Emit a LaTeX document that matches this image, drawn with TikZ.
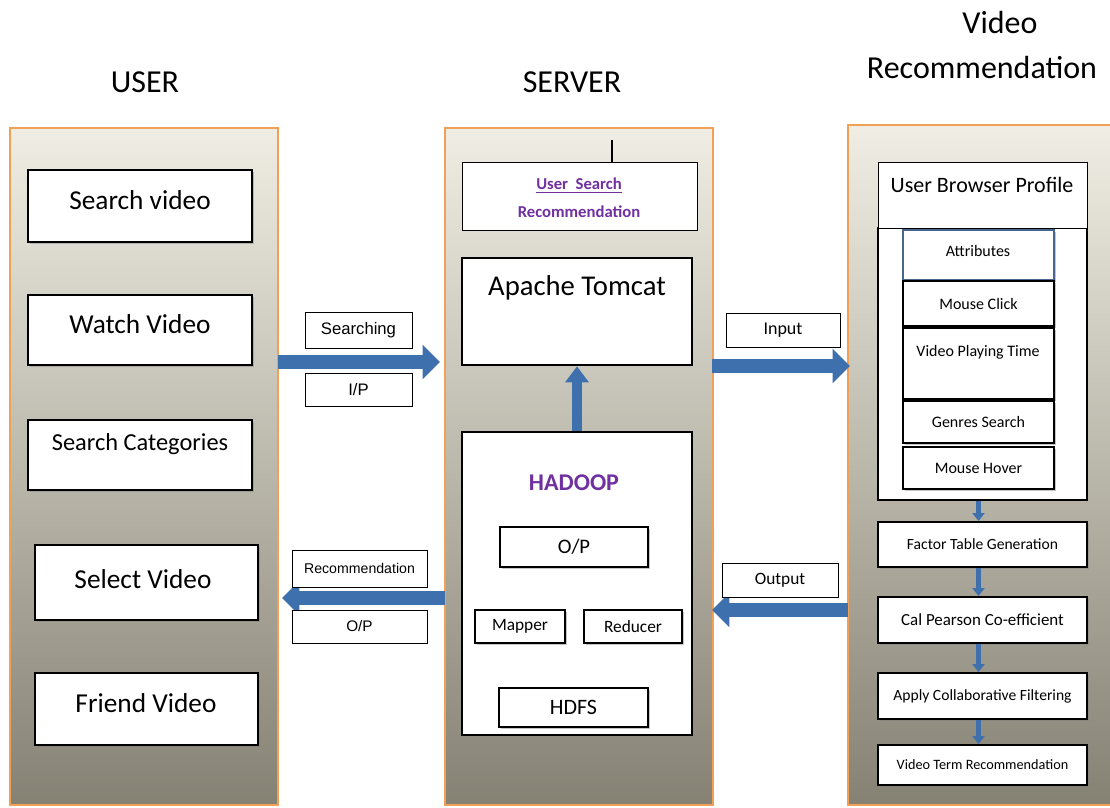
\documentclass[tikz,border=0pt]{standalone}
\usepackage{fontspec}
\setmainfont{Carlito}
\newfontfamily\arialf{Liberation Sans}
\usetikzlibrary{arrows.meta,fit,shadows}
\definecolor{panelTop}{HTML}{F0EEE4}
\definecolor{panelBot}{HTML}{858173}
\definecolor{panelEdge}{HTML}{F2A055}
\definecolor{arrowBlue}{HTML}{3F70AE}
\definecolor{arrowEdge}{HTML}{2E5A8E}
\definecolor{purp}{HTML}{7030A0}
\definecolor{attrEdge}{HTML}{4A6690}
\tikzset{
  panel/.style={draw=panelEdge, line width=2.2pt, top color=panelTop, bottom color=panelBot, inner sep=0pt},
  wbox/.style={draw=black, fill=white, line width=0.9pt, inner sep=0pt, drop shadow={shadow xshift=1.8pt, shadow yshift=-1.5pt, opacity=0.45}},
  thinbox/.style={draw=black, fill=white, line width=0.6pt, inner sep=0pt},
  heavybox/.style={draw=black, fill=white, line width=2pt, inner sep=0pt},
  bigarrow/.style={line width=10.5pt, color=arrowBlue, -{Triangle[length=13pt, width=25pt]}},
  uparrow/.style={color=arrowBlue, line width=7pt, -{Triangle[length=12pt, width=17pt]}},
  smallarrow/.style={color=arrowBlue, line width=3.5pt, -{Triangle[length=6pt, width=9pt]}},
  title/.style={font=\fontsize{24}{28}\selectfont},
  txt/.style={inner sep=0pt},
}
\begin{document}
\begin{tikzpicture}[x=0.75pt, y=-0.75pt]
\useasboundingbox[fill=white] (0,0) rectangle (1110,807);
% titles
\node[title] (tUser) at (145,82) {USER};
\node[title] (tServer) at (572,82) {SERVER};
\node[title] (tVideo) at (1000,22) {Video};
\node[title] (tRec) at (982,68) {Recommendation};
% panels
\node[panel, fit={(10,128) (278,805)}] (userP) {};
\node[panel, fit={(445,128) (713,805)}] (servP) {};
\begin{scope}
\clip (0,0) rectangle (1110,807);
\node[panel, fit={(848,125) (1118,805)}] (recP) {};
\end{scope}
% user boxes
\begin{scope}[font=\fontsize{20.5}{24}\selectfont]
\node[wbox, fit={(28,170) (252,242)}] (sv) {};
\node[txt] at (140,200) {Search video};
\node[wbox, fit={(28,295) (252,365)}] (wv) {};
\node[txt] at (140,324) {Watch Video};
\node[wbox, fit={(28,420) (252,490)}] (sc) {};
\node[txt, font=\fontsize{18.3}{22}\selectfont] at (140,444) {Search Categories};
\node[wbox, fit={(35,545) (258,620)}] (sel) {};
\node[txt] at (143,579) {Select Video};
\node[wbox, fit={(35,673) (258,745)}] (fv) {};
\node[txt] at (146,703) {Friend Video};
\end{scope}
% server
\node[thinbox, fit={(462,162) (697,230)}] (usr) {};
\node[font=\bfseries\fontsize{12.5}{21}\selectfont, text=purp, align=center] at (579,198) {\underline{User\ \ Search}\\Recommendation};
\coordinate (usrTop) at (612,140);
\draw[line width=1pt] (usrTop) -- (usrTop |- usr.north);
\node[heavybox, fit={(462,258) (692,365)}] (tomcat) {};
\node[txt, font=\fontsize{21.5}{24}\selectfont] at (577,288) {Apache Tomcat};
\node[heavybox, fit={(462,432) (692,735)}] (hadoop) {};
\node[txt, font=\bfseries\fontsize{18}{20}\selectfont, text=purp] at (574,483) {HADOOP};
\node[wbox, fit={(500,527) (648,567)}] (op) {};
\node[txt, font=\fontsize{15.5}{18}\selectfont] at (op) {O/P};
\node[wbox, fit={(475,610) (565,643)}] (mapper) {};
\node[txt, font=\fontsize{13}{15}\selectfont] at (mapper) {Mapper};
\node[wbox, fit={(584,610) (682,643)}] (reducer) {};
\node[txt, font=\fontsize{13}{15}\selectfont] at (reducer) {Reducer};
\node[wbox, fit={(499,688) (648,727)}] (hdfs) {};
\node[txt, font=\fontsize{16.5}{18}\selectfont] at (hdfs) {HDFS};
\draw[uparrow] (hadoop.north) -- (tomcat.south);
% arrows user <-> server
\coordinate (a1s) at (278,362);
\coordinate (a1e) at (440,362);
\draw[bigarrow] (a1s) -- (a1e);
\node[thinbox, fit={(305,312) (412,348)}] (searching) {};
\node[txt, font=\arialf\fontsize{12.5}{14}\selectfont] at (searching) {Searching};
\node[thinbox, fit={(305,373) (412,406)}] (ip) {};
\node[txt, font=\arialf\fontsize{12.5}{14}\selectfont] at (ip) {I/P};
\coordinate (a2s) at (445,598);
\coordinate (a2e) at (282,598);
\draw[bigarrow] (a2s) -- (a2e);
\node[thinbox, fit={(292,550) (427,587)}] (recl) {};
\node[txt, font=\arialf\fontsize{10.6}{12}\selectfont] at (recl) {Recommendation};
\node[thinbox, fit={(292,610) (427,643)}] (op2) {};
\node[txt, font=\arialf\fontsize{11.5}{12}\selectfont] at (op2) {O/P};
% arrows server <-> rec
\coordinate (a3s) at (712,366);
\coordinate (a3e) at (850,366);
\draw[bigarrow] (a3s) -- (a3e);
\node[thinbox, fit={(726,313) (840,347)}] (input) {};
\node[txt, font=\fontsize{13.5}{14}\selectfont] at (input) {Input};
\coordinate (a4s) at (848,610);
\coordinate (a4e) at (712,610);
\draw[bigarrow] (a4s) -- (a4e);
\node[thinbox, fit={(722,563) (838,597)}] (output) {};
\node[txt, font=\fontsize{13}{14}\selectfont] at (output) {Output};
% rec panel
\node[heavybox, line width=1.6pt, fit={(878,228) (1087,500)}] (ubp) {};
\node[thinbox, fit={(878,162) (1087,228)}] (ubpTop) {};
\node[txt, font=\fontsize{16.5}{18}\selectfont] at (982,185) {User Browser Profile};
\begin{scope}[font=\fontsize{12}{14}\selectfont]
\node[wbox, line width=1.5pt, draw=attrEdge, fit={(903,230) (1054,280)}] (attr) {};
\node[txt] at (978,251) {Attributes};
\node[wbox, line width=1.5pt, fit={(903,281) (1054,326)}] (mc) {};
\node[txt] at (mc) {Mouse Click};
\node[wbox, line width=1.5pt, fit={(903,328) (1054,399)}] (vpt) {};
\node[txt] at (978,352) {Video Playing Time};
\node[wbox, line width=1.5pt, fit={(903,401) (1054,443)}] (gs) {};
\node[txt] at (gs) {Genres Search};
\node[wbox, line width=1.5pt, fit={(903,447) (1054,489)}] (mh) {};
\node[txt] at (mh) {Mouse Hover};
\node[wbox, line width=1.5pt, fit={(878,522) (1087,567)}] (ftg) {};
\node[txt, font=\fontsize{11.7}{14}\selectfont] at (ftg) {Factor Table Generation};
\node[wbox, line width=1.5pt, fit={(878,597) (1087,643)}] (cp) {};
\node[txt, font=\fontsize{12.7}{14}\selectfont] at (cp) {Cal Pearson Co-efficient};
\node[wbox, line width=1.5pt, fit={(878,673) (1087,719)}] (acf) {};
\node[txt, font=\fontsize{11.7}{14}\selectfont] at (acf) {Apply Collaborative Filtering};
\node[wbox, line width=1.5pt, fit={(878,745) (1087,785)}] (vtr) {};
\node[txt, font=\fontsize{10.7}{14}\selectfont] at (vtr) {Video Term Recommendation};
\end{scope}
\draw[smallarrow] ([xshift=-3pt]ubp.south) -- ([xshift=-3pt]ftg.north);
\draw[smallarrow] ([xshift=-3pt]ftg.south) -- ([xshift=-3pt]cp.north);
\draw[smallarrow] ([xshift=-3pt]cp.south) -- ([xshift=-3pt]acf.north);
\draw[smallarrow] ([xshift=-3pt]acf.south) -- ([xshift=-3pt]vtr.north);
\end{tikzpicture}
\end{document}
